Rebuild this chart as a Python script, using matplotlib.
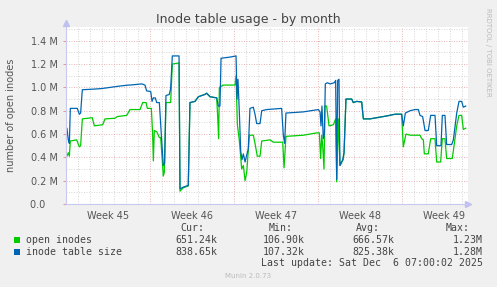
import matplotlib
matplotlib.use("Agg")
import matplotlib.pyplot as plt
from matplotlib.ticker import MultipleLocator, FuncFormatter
from matplotlib.patches import Rectangle

# days since start of week 45, values in millions
size_days = [0.0, 0.08, 0.19, 0.28, 0.36, 0.94, 1.11, 1.22, 1.36, 2.28, 2.97, 3.67, 4.36, 5.19,
             5.33, 6.31, 6.58, 6.72, 7.06, 7.17, 7.28, 7.44, 7.56, 7.78, 7.97, 8.11, 8.22, 8.33,
             8.61, 8.72, 8.86, 9.42, 9.5, 9.78, 10.19, 10.33, 10.75, 11.03, 11.58,
             11.72, 12.0, 12.56, 12.69, 12.83, 12.92, 13.67, 14.17, 14.25, 14.33, 14.44, 14.56,
             14.67, 14.78, 14.92, 15.06, 15.19, 15.33, 15.61, 15.75, 15.89, 16.17, 16.31, 16.72,
             17.97, 18.11, 18.22, 18.33, 19.78, 21.03, 21.17, 21.25, 21.33, 21.44, 21.53, 21.61,
             21.78, 22.0, 22.36, 22.47, 22.56, 22.64, 22.75, 22.83, 23.06, 23.17, 23.33, 23.81,
             23.94, 24.22, 24.64, 24.78, 25.33, 25.89, 26.72, 27.42, 27.97, 28.11, 28.28, 28.67,
             29.08, 29.36, 29.5, 29.72, 29.92, 30.19, 30.39, 30.75, 30.89, 31.25, 31.36, 31.58,
             31.72, 32.14, 32.28, 32.56, 32.75, 32.97, 33.11, 33.31]
size_vals = [0.61, 0.65, 0.55, 0.52, 0.82, 0.82, 0.77, 0.78, 0.98, 0.985, 0.99, 1.0, 1.01, 1.02,
             1.02, 1.03, 1.02, 0.97, 0.965, 0.88, 0.91, 0.91, 0.87, 0.87, 0.55, 0.33, 0.35, 0.93,
             0.94, 0.99, 1.27, 1.27, 0.13, 0.145, 0.16, 0.87, 0.88, 0.92, 0.94,
             0.95, 0.92, 0.91, 0.84, 0.84, 1.25, 1.26, 1.27, 0.9, 1.07, 0.8, 0.45,
             0.38, 0.43, 0.36, 0.42, 0.47, 0.82, 0.83, 0.77, 0.69, 0.69, 0.8, 0.81,
             0.82, 0.59, 0.52, 0.78, 0.79, 0.81, 0.79, 0.67, 0.84, 0.56, 0.6, 1.03,
             1.04, 1.03, 1.04, 1.06, 0.21, 1.06, 1.07, 0.33, 0.38, 0.44, 0.9, 0.9,
             0.87, 0.88, 0.875, 0.73, 0.73, 0.74, 0.755, 0.77, 0.77, 0.67, 0.78, 0.8,
             0.81, 0.81, 0.76, 0.75, 0.63, 0.63, 0.76, 0.76, 0.5, 0.5, 0.76, 0.76,
             0.51, 0.51, 0.55, 0.78, 0.88, 0.88, 0.83, 0.84]

open_days = [0.0, 0.08, 0.19, 0.28, 0.36, 0.89, 1.11, 1.22, 1.36, 2.19, 2.36, 3.06, 3.25, 4.08,
             4.28, 5.06, 5.33, 6.17, 6.39, 6.67, 6.78, 7.11, 7.22, 7.28, 7.36, 7.56, 7.78, 7.89,
             8.11, 8.19, 8.33, 8.72, 8.86, 9.42, 9.5, 9.78, 10.19, 10.33, 10.75, 11.03, 11.58,
             11.72, 12.0, 12.56, 12.64, 12.72, 12.78, 13.11, 14.08, 14.17, 14.28, 14.44, 14.64,
             14.78, 14.92, 15.06, 15.28, 15.61, 15.75, 15.94, 16.17, 16.31, 17.0,
             17.28, 18.06, 18.17, 18.33, 19.78, 20.89, 21.11, 21.22, 21.31, 21.39, 21.5, 21.58,
             21.72, 21.92, 22.28, 22.47, 22.56, 22.69, 22.83, 23.1, 23.17, 23.33, 23.81,
             23.94, 24.22, 24.64, 24.78, 25.33, 25.89, 26.72, 27.42, 27.97, 28.11, 28.33, 28.67,
             29.5, 29.64, 29.78, 29.86, 30.19, 30.39, 30.75, 30.89, 31.22, 31.36, 31.58,
             31.72, 32.19, 32.56, 32.75, 32.97, 33.11, 33.31]
open_vals = [0.43, 0.41, 0.44, 0.41, 0.54, 0.55, 0.49, 0.5, 0.73, 0.74, 0.67, 0.68, 0.73, 0.735,
             0.75, 0.76, 0.81, 0.81, 0.87, 0.87, 0.82, 0.82, 0.6, 0.37, 0.63, 0.62, 0.57, 0.57,
             0.24, 0.27, 0.87, 0.87, 1.2, 1.21, 0.11, 0.14, 0.155, 0.87, 0.88, 0.92, 0.94,
             0.95, 0.92, 0.91, 0.75, 0.56, 1.0, 1.02, 1.02, 1.1, 0.68, 0.55, 0.3,
             0.33, 0.2, 0.27, 0.59, 0.59, 0.52, 0.41, 0.41, 0.54, 0.55,
             0.53, 0.53, 0.31, 0.58, 0.59, 0.61, 0.61, 0.39, 0.59, 0.5, 0.3, 0.84,
             0.84, 0.67, 0.68, 0.73, 0.19, 0.73, 0.33, 0.38, 0.44, 0.9, 0.9,
             0.87, 0.88, 0.875, 0.73, 0.73, 0.74, 0.755, 0.77, 0.77, 0.49, 0.6, 0.59,
             0.59, 0.56, 0.55, 0.43, 0.43, 0.56, 0.56, 0.36, 0.36, 0.56, 0.56,
             0.39, 0.39, 0.67, 0.76, 0.76, 0.64, 0.65]

week_labels = ["Week 45", "Week 46", "Week 47", "Week 48", "Week 49"]
series_names = ["open inodes", "inode table size"]
cur = ["651.24k", "838.65k"]
mins = ["106.90k", "107.32k"]
avgs = ["666.57k", "825.38k"]
maxs = ["1.23M", "1.28M"]

W, H = 497, 287
fig = plt.figure(figsize=(W / 100, H / 100), dpi=100, facecolor="#f0f0f0")

def px(x, y):
    return x / W, 1 - y / H

ax = fig.add_axes([66 / W, 1 - 204 / H, (468 - 66) / W, (204 - 27) / H])
ax.set_facecolor("white")
ax.set_xlim(0, 33.5)
ax.set_ylim(0, 1.518)

ax.xaxis.set_major_locator(MultipleLocator(7))
ax.xaxis.set_minor_locator(MultipleLocator(1))
ax.yaxis.set_major_locator(MultipleLocator(0.2))
ax.yaxis.set_minor_locator(MultipleLocator(0.1))
ax.grid(which="minor", color="#c8c8c8", linestyle=(0, (1, 2)), linewidth=0.6)
ax.grid(which="major", color="#e49a9a", linestyle=(0, (1, 2)), linewidth=0.6)
ax.set_axisbelow(True)
ax.tick_params(axis="x", which="both", length=0, labelbottom=False)
ax.tick_params(axis="y", which="major", length=2, color="#e49a9a", labelsize=7,
               labelcolor="#555555", pad=4)
ax.tick_params(axis="y", which="minor", length=0)
ax.yaxis.set_major_formatter(FuncFormatter(
    lambda v, p: "0.0    " if abs(v) < 1e-9 else f"{v:.1f} M"))

for s in ["top", "right"]:
    ax.spines[s].set_visible(False)
for s in ["left", "bottom"]:
    ax.spines[s].set_color("#c8c8f0")
    ax.spines[s].set_linewidth(0.8)

ax.plot(open_days, open_vals, color="#00cc00", linewidth=0.9)
ax.plot(size_days, size_vals, color="#0066b3", linewidth=0.9)

# axis arrows
ax.plot([1.0], [0], marker=">", markersize=4, color="#c0c0f0", transform=ax.transAxes, clip_on=False)
ax.plot([0], [1.02], marker="^", markersize=4, color="#c0c0f0", transform=ax.transAxes, clip_on=False)

for i, lab in enumerate(week_labels):
    ax.text(3.5 + 7 * i, -0.065, lab, transform=ax.get_xaxis_transform(),
            ha="center", va="center", fontsize=7, color="#555555")

fig.text(*px(248, 20), "Inode table usage - by month", ha="center", va="center",
         fontsize=9, color="#444444")
fig.text(*px(11, 115), "number of open inodes", rotation=90, ha="center", va="center",
         fontsize=7, color="#555555")
fig.text(*px(488, 52), "RRDTOOL / TOBI OETIKER", rotation=270, ha="center", va="center",
         fontsize=5, color="#bbbbbb")
fig.text(*px(248, 276), "Munin 2.0.73", ha="center", va="center", fontsize=5, color="#bbbbbb")

mono = dict(family="DejaVu Sans Mono", fontsize=7.1, color="#444444", va="center")
fig.text(*px(204, 228), "Cur:", ha="right", **mono)
fig.text(*px(293, 228), "Min:", ha="right", **mono)
fig.text(*px(380, 228), "Avg:", ha="right", **mono)
fig.text(*px(470, 228), "Max:", ha="right", **mono)

colors = ["#00cc00", "#0066b3"]
for i, name in enumerate(series_names):
    y = 240 + 12 * i
    fig.patches.append(Rectangle(px(14, y + 3), 6 / W, 6 / H, transform=fig.transFigure,
                                 facecolor=colors[i], edgecolor="none"))
    fig.text(*px(26, y), name, ha="left", **mono)
    fig.text(*px(217, y), cur[i], ha="right", **mono)
    fig.text(*px(305, y), mins[i], ha="right", **mono)
    fig.text(*px(394, y), avgs[i], ha="right", **mono)
    fig.text(*px(483, y), maxs[i], ha="right", **mono)

fig.text(*px(483, 263), "Last update: Sat Dec  6 07:00:02 2025", ha="right", **mono)

fig.savefig("out.png", dpi=100, facecolor=fig.get_facecolor())
